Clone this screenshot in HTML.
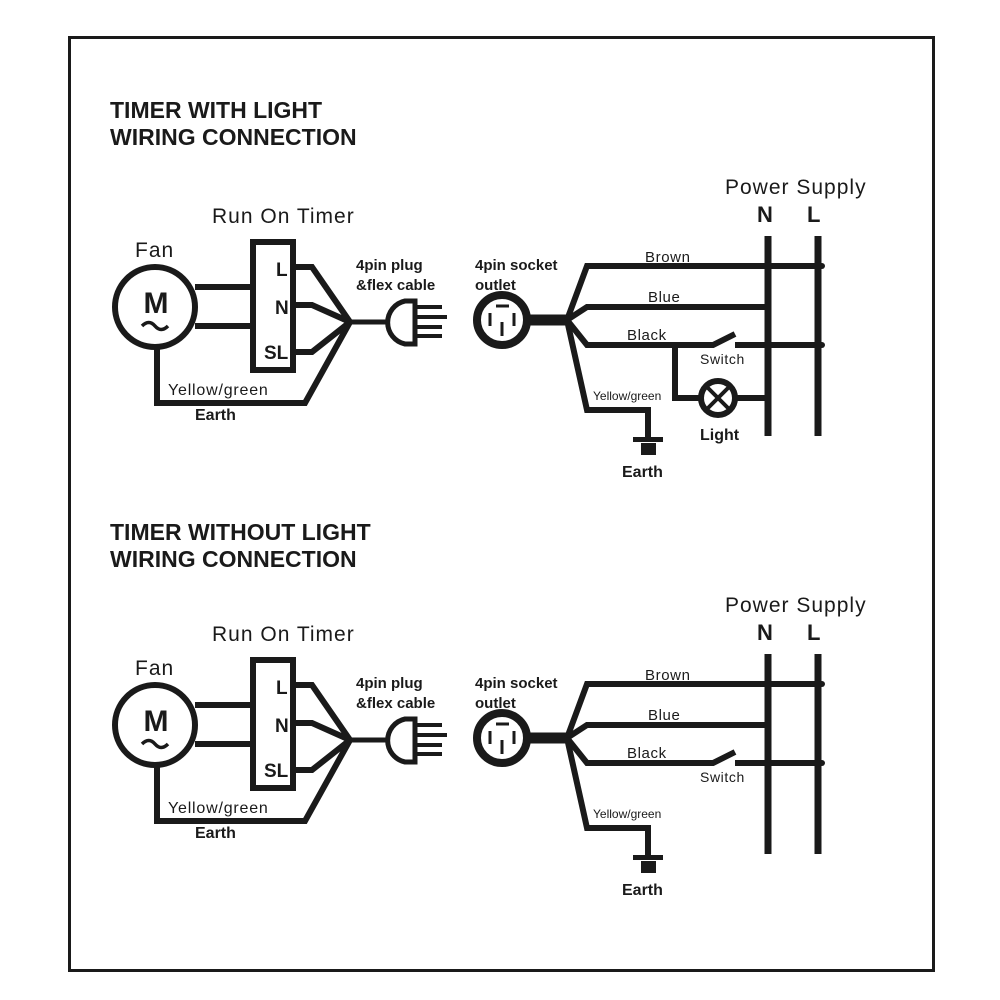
<!DOCTYPE html>
<html><head><meta charset="utf-8"><style>
html,body{margin:0;padding:0;background:#fff;width:1000px;height:1000px;overflow:hidden}
svg{display:block}
text{font-family:"Liberation Sans",Arial,sans-serif;fill:#1a1a1a}
.b{font-weight:bold}
</style></head><body>
<svg width="1000" height="1000" viewBox="0 0 1000 1000" xmlns="http://www.w3.org/2000/svg">
<defs>
<g id="d" stroke="#1a1a1a" fill="none" stroke-linejoin="miter">
  <circle cx="155" cy="307" r="40" stroke-width="6"/>
  <text x="156" y="313" text-anchor="middle" class="b" font-size="30" stroke="none">M</text>
  <path d="M142 326 q7 -7 13 0 t13 0" stroke-width="3.5"/>
  <line x1="195" y1="287" x2="253" y2="287" stroke-width="6"/>
  <line x1="195" y1="326" x2="253" y2="326" stroke-width="6"/>
  <rect x="253" y="242" width="40" height="128" stroke-width="6"/>
  <text x="276" y="276" class="b" font-size="19" stroke="none">L</text>
  <text x="275" y="314" class="b" font-size="19" stroke="none">N</text>
  <text x="264" y="359" class="b" font-size="19" stroke="none">SL</text>
  <polyline points="295,267 312,267 350,322" stroke-width="6"/>
  <polyline points="295,305 312,305 350,322" stroke-width="6"/>
  <polyline points="295,352 312,352 350,322" stroke-width="6"/>
  <polyline points="157,347 157,403 305,403 350,322" stroke-width="6"/>
  <line x1="348" y1="322" x2="386" y2="322" stroke-width="5"/>
  <path d="M415 301 L405 301 A22 22 0 0 0 405 344 L415 344 Z" stroke-width="5"/>
  <line x1="415" y1="307" x2="442" y2="307" stroke-width="4"/>
  <line x1="415" y1="317" x2="447" y2="317" stroke-width="4"/>
  <line x1="415" y1="327" x2="442" y2="327" stroke-width="4"/>
  <line x1="415" y1="336" x2="442" y2="336" stroke-width="4"/>
  <circle cx="502" cy="320" r="25" stroke-width="8"/>
  <line x1="496" y1="306" x2="509" y2="306" stroke-width="3"/>
  <line x1="490" y1="313" x2="490" y2="326" stroke-width="3"/>
  <line x1="514" y1="313" x2="514" y2="326" stroke-width="3"/>
  <line x1="502" y1="322" x2="502" y2="336" stroke-width="3"/>
  <line x1="527" y1="320" x2="569" y2="320" stroke-width="11"/>
  <polyline points="567,320 587,266 822,266" stroke-width="6"/>
  <polyline points="567,320 587,307 768,307" stroke-width="6"/>
  <polyline points="567,320 587,345 713,345 735,334" stroke-width="6"/>
  <line x1="735" y1="345" x2="822" y2="345" stroke-width="6"/>
  <polyline points="567,320 587,410 648,410 648,440" stroke-width="6"/>
  <rect x="633" y="437" width="30" height="5" fill="#1a1a1a" stroke="none"/>
  <rect x="641" y="443" width="15" height="12" fill="#1a1a1a" stroke="none"/>
  <line x1="768" y1="236" x2="768" y2="436" stroke-width="7"/>
  <line x1="818" y1="236" x2="818" y2="436" stroke-width="7"/>
</g>
<g id="t">
  <text x="135" y="257" font-size="21" letter-spacing="1">Fan</text>
  <text x="212" y="223" font-size="21" letter-spacing="1">Run On Timer</text>
  <text x="356" y="270" class="b" font-size="15">4pin plug</text>
  <text x="356" y="290" class="b" font-size="15">&amp;flex cable</text>
  <text x="168" y="395" font-size="16" letter-spacing="0.8">Yellow/green</text>
  <text x="195" y="420" class="b" font-size="16">Earth</text>
  <text x="475" y="270" class="b" font-size="15">4pin socket</text>
  <text x="475" y="290" class="b" font-size="15">outlet</text>
  <text x="645" y="262" font-size="15" letter-spacing="0.6">Brown</text>
  <text x="648" y="302" font-size="15" letter-spacing="0.6">Blue</text>
  <text x="627" y="340" font-size="15" letter-spacing="0.6">Black</text>
  <text x="700" y="364" font-size="14" letter-spacing="0.6">Switch</text>
  <text x="593" y="400" font-size="12">Yellow/green</text>
  <text x="622" y="477" class="b" font-size="16">Earth</text>
  <text x="725" y="194" font-size="21" letter-spacing="1">Power Supply</text>
  <text x="757" y="222" class="b" font-size="22">N</text>
  <text x="807" y="222" class="b" font-size="22">L</text>
</g>
</defs>
<rect x="69.5" y="37.5" width="864" height="933" fill="none" stroke="#1a1a1a" stroke-width="3"/>
<text x="110" y="118" class="b" font-size="23">TIMER WITH LIGHT</text>
<text x="110" y="145" class="b" font-size="23">WIRING CONNECTION</text>
<text x="110" y="540" class="b" font-size="23">TIMER WITHOUT LIGHT</text>
<text x="110" y="567" class="b" font-size="23">WIRING CONNECTION</text>
<use href="#d"/>
<use href="#t"/>
<g stroke="#1a1a1a" fill="none">
  <polyline points="675,345 675,398 700,398" stroke-width="6"/>
  <circle cx="718" cy="398" r="17" stroke-width="6"/>
  <line x1="706" y1="386" x2="730" y2="410" stroke-width="4"/>
  <line x1="730" y1="386" x2="706" y2="410" stroke-width="4"/>
  <line x1="735" y1="398" x2="768" y2="398" stroke-width="6"/>
</g>
<text x="700" y="440" class="b" font-size="16">Light</text>
<g transform="translate(0 418)">
  <use href="#d"/>
  <use href="#t"/>
</g>
<g fill="#1a1a1a">
<circle cx="822" cy="266" r="3"/><circle cx="822" cy="345" r="3"/>
<circle cx="822" cy="684" r="3"/><circle cx="822" cy="763" r="3"/>
</g>
</svg>
</body></html>
